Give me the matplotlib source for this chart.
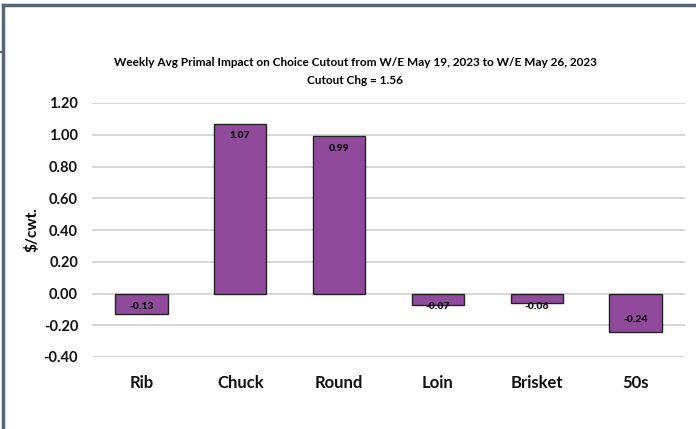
import numpy as np
import matplotlib
matplotlib.use("Agg")
import matplotlib.pyplot as plt
from matplotlib.lines import Line2D

plt.rcParams['font.family'] = ['Lato', 'DejaVu Sans']

primals = ["Rib", "Chuck", "Round", "Loin", "Brisket", "50s"]
impact = [-0.13, 1.07, 0.99, -0.07, -0.06, -0.24]
ticks = [-0.40, -0.20, 0.00, 0.20, 0.40, 0.60, 0.80, 1.00, 1.20]

title1 = "Weekly Avg Primal Impact on Choice Cutout from W/E May 19, 2023 to W/E May 26, 2023"
title2 = "Cutout Chg = 1.56"

W, H = 696, 429
fig = plt.figure(figsize=(W / 100, H / 100), dpi=100)
ax = fig.add_axes([92 / W, 1 - 357 / H, (685 - 92) / W, (357 - 103) / H])

x = np.arange(len(primals))
ax.bar(x, impact, width=0.53, color="#8F4A9C", edgecolor="#222222", linewidth=1.0, zorder=3)

ax.set_xlim(-0.5, len(primals) - 0.5)
ax.set_ylim(-0.40, 1.20)
ax.set_yticks(ticks)
ax.set_yticklabels([f"{t:.2f}" for t in ticks], fontsize=10.5, fontweight="bold")
ax.set_xticks(x)
ax.set_xticklabels(primals, fontsize=12, fontweight="bold")
ax.tick_params(axis="both", length=0, colors="#111111")
ax.tick_params(axis="y", pad=10)
ax.tick_params(axis="x", pad=13)
ax.grid(axis="y", color="#D0D0D0", linewidth=1.2, zorder=0)
for s in ax.spines.values():
    s.set_visible(False)

ax.set_ylabel("$/cwt.", fontsize=11, fontweight="bold", labelpad=3)

# data labels, excel "inside end" style
unit = (357 - 103) / 1.6  # pixels per $/cwt
for xi, v in zip(x, impact):
    if v >= 0:
        y = v - 12 / unit
    else:
        y = min(v + 12 / unit, -13 / unit)
    ax.text(xi, y, f"{v:.2f}", ha="center", va="center", fontsize=7.5,
            fontweight="heavy", color="#111111", zorder=4)

fig.text(355 / W, 1 - 62 / H, title1, ha="center", va="center", fontsize=8.5, fontweight="bold")
fig.text(355 / W, 1 - 80 / H, title2, ha="center", va="center", fontsize=8.5, fontweight="bold")

# outer frame fragments
frame = "#5A6670"
fig.add_artist(Line2D([3 / W, 1], [1 - 5 / H, 1 - 5 / H], color=frame, linewidth=2.5))
fig.add_artist(Line2D([3 / W, 3 / W], [1 - 5 / H, 0], color=frame, linewidth=2.5))
fig.add_artist(Line2D([0, 3 / W], [1 - 52 / H, 1 - 52 / H], color=frame, linewidth=1.5))

fig.savefig("out.png", dpi=100)
